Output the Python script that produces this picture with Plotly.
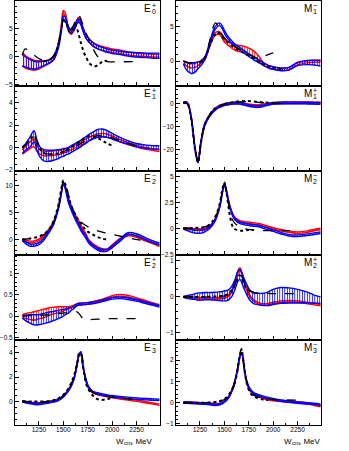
import plotly.graph_objects as go
from plotly.subplots import make_subplots

# W_cm grid (MeV) shared by the two solution bands
W = [1080, 1120, 1160, 1200, 1230, 1260, 1300, 1350, 1400, 1450, 1480, 1500, 1520, 1550, 1580, 1610, 1640,
     1660, 1680, 1700, 1730, 1760, 1800, 1850, 1900, 1950, 2000, 2080, 2160, 2250, 2350, 2420, 2485]

# ---- E0+ ----
E0P_RED = [-0.5, -1.0, -1.3, -1.5, -1.5, -1.4, -1.2, -0.9, -0.2, 2.2, 5.5, 8.0, 7.6, 5.2, 4.3, 5.0, 6.4,
           6.8, 6.2, 5.0, 3.7, 3.0, 2.3, 1.8, 1.5, 1.3, 1.1, 0.9, 0.6, 0.4, 0.3, 0.2, 0.2]
E0P_RED_ERR = [1.2, 1.1, 1.0, 0.9, 0.8, 0.7, 0.5, 0.35, 0.3, 0.3, 0.3, 0.3, 0.3, 0.3, 0.3, 0.3, 0.3,
               0.3, 0.3, 0.3, 0.3, 0.3, 0.3, 0.35, 0.35, 0.35, 0.3, 0.3, 0.25, 0.25, 0.25, 0.25, 0.25]
E0P_BLUE = [-0.6, -1.0, -1.3, -1.5, -1.5, -1.4, -1.2, -0.9, -0.3, 1.9, 4.8, 7.0, 6.8, 5.2, 4.5, 5.1, 6.2,
            6.5, 6.0, 5.0, 3.7, 3.0, 2.3, 1.7, 1.4, 1.1, 0.9, 0.7, 0.5, 0.35, 0.25, 0.2, 0.2]
E0P_BLUE_ERR = [1.0, 0.9, 0.8, 0.7, 0.6, 0.5, 0.4, 0.3, 0.3, 0.3, 0.3, 0.3, 0.3, 0.3, 0.3, 0.3, 0.3,
                0.3, 0.3, 0.3, 0.3, 0.3, 0.3, 0.3, 0.3, 0.3, 0.3, 0.3, 0.35, 0.4, 0.4, 0.45, 0.45]
E0P_DASH_W = [1080, 1110, 1150, 1200, 1250, 1300, 1350, 1400, 1450, 1480, 1500, 1530, 1560, 1600, 1640,
              1660, 1690, 1720, 1760, 1800, 1850, 1900, 1950, 2050, 2240]
E0P_DASH = [0.3, 1.4, 1.0, 0.3, -0.3, -0.7, -0.6, 0.2, 2.5, 5.0, 6.5, 6.0, 4.8, 5.5, 7.2,
            7.4, 6.3, 4.8, 3.2, 1.6, 0.1, -0.6, -0.85, -0.9, -0.85]
E0P_DOT_W = [1300, 1350, 1400, 1450, 1480, 1500, 1530, 1560, 1590, 1620, 1650, 1680, 1710, 1740, 1770,
             1800, 1830, 1860, 1900, 1950]
E0P_DOT = [-0.8, -0.6, 0.0, 2.3, 5.0, 6.5, 6.0, 4.5, 4.6, 5.8, 4.5, 2.5, 0.8, -0.3, -1.2,
           -1.6, -1.7, -1.4, -0.9, -0.7]

# ---- M1- ----
M1M_RED = [-0.1, -0.5, -0.7, -0.6, -0.4, -0.1, 0.4, 2.3, 3.9, 4.1, 3.5, 3.0, 2.8, 2.5, 2.2, 2.0, 1.9,
           1.85, 1.8, 1.75, 1.6, 1.4, 1.1, 0.5, -0.4, -0.8, -1.0, -1.2, -1.1, -0.4, -0.1, 0.0, 0.0]
M1M_RED_ERR = [0.2, 0.25, 0.3, 0.3, 0.25, 0.2, 0.2, 0.2, 0.2, 0.2, 0.2, 0.2, 0.25, 0.3, 0.35, 0.4, 0.45,
               0.45, 0.45, 0.45, 0.45, 0.45, 0.4, 0.3, 0.2, 0.15, 0.15, 0.15, 0.15, 0.15, 0.15, 0.15, 0.15]
M1M_BLUE = [-0.2, -0.8, -1.0, -0.9, -0.6, -0.3, 0.4, 2.6, 4.7, 5.4, 4.9, 4.3, 3.8, 3.2, 2.7, 2.3, 2.0,
            1.8, 1.6, 1.4, 1.1, 0.8, 0.4, 0.0, -0.4, -0.8, -1.0, -1.2, -1.1, -0.4, -0.2, -0.2, -0.3]
M1M_BLUE_ERR = [0.2, 0.6, 0.8, 0.7, 0.5, 0.35, 0.2, 0.2, 0.2, 0.2, 0.2, 0.2, 0.2, 0.2, 0.2, 0.2, 0.2,
                0.2, 0.2, 0.2, 0.2, 0.2, 0.2, 0.2, 0.2, 0.2, 0.2, 0.2, 0.2, 0.25, 0.3, 0.35, 0.4]
M1M_DASH_W = [1080, 1150, 1250, 1300, 1350, 1380, 1410, 1440, 1480, 1550, 1650, 1750, 1850, 1920, 2000]
M1M_DASH = [0.0, -0.3, -0.2, 0.6, 3.0, 4.8, 5.6, 5.0, 3.8, 2.7, 1.8, 1.0, 0.4, 0.8, 1.2]
M1M_DOT_W = [1250, 1300, 1350, 1400, 1430, 1460, 1500, 1600, 1700, 1800, 1900, 2000, 2100]
M1M_DOT = [-0.2, 0.5, 2.3, 3.8, 4.2, 3.9, 3.2, 2.0, 1.2, 0.4, -0.5, -1.0, -1.2]

# ---- E1+ ----
E1P_RED = [-0.4, -0.1, 0.2, 0.4, -0.1, -0.4, -0.55, -0.55, -0.5, -0.45, -0.4, -0.35, -0.3, -0.2, -0.1, 0.05, 0.15,
           0.25, 0.35, 0.45, 0.6, 0.75, 0.9, 1.05, 1.1, 1.05, 0.9, 0.6, 0.35, 0.1, -0.1, -0.2, -0.3]
E1P_RED_ERR = [0.2, 0.25, 0.3, 0.35, 0.25, 0.2, 0.2, 0.2, 0.2, 0.2, 0.15, 0.15, 0.15, 0.15, 0.15, 0.15, 0.15,
               0.15, 0.15, 0.15, 0.15, 0.15, 0.15, 0.15, 0.15, 0.15, 0.12, 0.1, 0.1, 0.08, 0.08, 0.08, 0.08]
E1P_BLUE = [-0.3, 0.1, 0.5, 1.0, 0.2, -0.4, -0.7, -0.75, -0.7, -0.6, -0.5, -0.45, -0.4, -0.3, -0.15, 0.0, 0.15,
            0.25, 0.35, 0.5, 0.65, 0.85, 1.05, 1.25, 1.3, 1.2, 1.0, 0.7, 0.45, 0.2, 0.05, 0.0, 0.0]
E1P_BLUE_ERR = [0.25, 0.3, 0.45, 0.5, 0.45, 0.45, 0.5, 0.5, 0.45, 0.4, 0.35, 0.35, 0.3, 0.3, 0.3, 0.3, 0.3,
                0.3, 0.3, 0.3, 0.3, 0.3, 0.3, 0.35, 0.35, 0.3, 0.25, 0.2, 0.15, 0.15, 0.15, 0.15, 0.15]
E1P_DASH_W = [1080, 1120, 1160, 1200, 1240, 1280, 1350, 1450, 1550, 1650, 1750, 1850, 1900, 1950, 2050, 2150, 2250]
E1P_DASH = [0.0, 0.3, 0.8, 1.05, 0.3, -0.4, -0.6, -0.5, -0.2, 0.2, 0.7, 1.05, 1.05, 1.0, 0.7, 0.4, 0.15]
E1P_DOT_W = [1080, 1150, 1200, 1250, 1300, 1400, 1500, 1600, 1700, 1760, 1800, 1850, 1900, 1950, 2000]
E1P_DOT = [0.0, 0.6, 1.0, 0.1, -0.5, -0.6, -0.4, 0.1, 0.7, 1.0, 1.0, 0.85, 0.6, 0.35, 0.15]

# ---- M1+ ----
M1P_RED = [0.3, 0.2, -6.0, -19.5, -25.2, -16.7, -9.0, -5.2, -2.6, -1.2, -0.7, -0.45, -0.3, -0.1, 0.1, 0.2, 0.2,
           0.1, -0.1, -0.3, -0.5, -0.7, -0.9, -0.9, -0.6, -0.3, 0.0, 0.2, 0.3, 0.3, 0.3, 0.2, 0.1]
M1P_RED_ERR = [0.3, 0.3, 0.4, 0.4, 0.4, 0.4, 0.4, 0.35, 0.35, 0.35, 0.35, 0.35, 0.35, 0.35, 0.35, 0.35, 0.35,
               0.35, 0.35, 0.35, 0.35, 0.35, 0.35, 0.35, 0.35, 0.35, 0.35, 0.35, 0.35, 0.35, 0.35, 0.35, 0.35]
M1P_BLUE = [0.2, 0.1, -6.2, -19.7, -25.3, -16.8, -9.1, -5.3, -2.8, -1.4, -0.9, -0.6, -0.4, -0.2, 0.0, 0.1, 0.1,
            0.0, -0.2, -0.4, -0.7, -1.0, -1.3, -1.4, -1.0, -0.5, 0.0, 0.2, 0.2, 0.2, 0.1, 0.0, 0.0]
M1P_BLUE_ERR = [0.3, 0.3, 0.4, 0.4, 0.4, 0.4, 0.4, 0.35, 0.35, 0.35, 0.35, 0.35, 0.35, 0.35, 0.35, 0.35, 0.35,
                0.35, 0.35, 0.35, 0.35, 0.35, 0.35, 0.35, 0.35, 0.35, 0.35, 0.35, 0.35, 0.35, 0.35, 0.35, 0.35]
M1P_DASH_W = [1080, 1120, 1160, 1200, 1230, 1260, 1300, 1350, 1400, 1500, 1600, 1700, 1800, 1900, 2000, 2100]
M1P_DASH = [0.3, 0.0, -6.2, -19.8, -25.3, -16.8, -9.0, -5.0, -2.5, -0.4, 0.4, 0.7, 0.6, 0.3, 0.1, 0.0]
M1P_DOT_W = [1080, 1120, 1160, 1200, 1230, 1260, 1300, 1350, 1400, 1500, 1600, 1700, 1800, 1900, 2000]
M1P_DOT = [0.3, 0.0, -6.5, -20.0, -25.5, -17.0, -9.2, -5.0, -2.3, -0.3, 0.6, 1.0, 0.8, 0.4, 0.1]

# ---- E2- ----
E2M_RED = [0.0, -0.3, -0.4, -0.35, -0.2, 0.1, 0.7, 1.8, 3.2, 6.0, 8.8, 10.5, 9.8, 7.8, 6.3, 5.0, 3.9,
           3.3, 2.6, 1.9, 1.0, -0.1, -0.8, -1.4, -1.8, -1.9, -1.1, 0.1, 0.85, 0.6, -0.15, -0.6, -1.1]
E2M_RED_ERR = [0.15, 0.15, 0.15, 0.15, 0.15, 0.15, 0.15, 0.15, 0.15, 0.15, 0.15, 0.15, 0.15, 0.15, 0.15, 0.15, 0.15,
               0.15, 0.15, 0.15, 0.15, 0.15, 0.15, 0.15, 0.15, 0.15, 0.15, 0.15, 0.15, 0.15, 0.15, 0.15, 0.15]
E2M_BLUE = [0.0, -0.6, -1.0, -1.0, -0.9, -0.6, 0.1, 1.4, 3.0, 5.9, 8.7, 10.5, 9.6, 7.2, 5.7, 4.4, 3.3,
            2.6, 1.9, 1.3, 0.5, -0.4, -1.1, -1.7, -2.0, -1.9, -1.3, -0.1, 1.1, 0.9, 0.1, -0.4, -0.8]
E2M_BLUE_ERR = [0.2, 0.2, 0.2, 0.2, 0.2, 0.2, 0.2, 0.2, 0.2, 0.2, 0.2, 0.2, 0.2, 0.2, 0.2, 0.2, 0.2,
                0.2, 0.2, 0.2, 0.2, 0.2, 0.2, 0.2, 0.2, 0.2, 0.2, 0.2, 0.2, 0.2, 0.2, 0.2, 0.2]
E2M_DASH_W = [1080, 1150, 1250, 1350, 1400, 1450, 1480, 1500, 1520, 1560, 1600, 1650, 1700, 1800, 1900,
              2000, 2100, 2200, 2300]
E2M_DASH = [0.0, 0.2, 0.5, 1.6, 3.0, 6.0, 9.0, 10.8, 10.5, 7.8, 5.5, 4.0, 3.0, 2.0, 1.4, 1.0, 0.6, 0.2, -0.1]
E2M_DOT_W = [1080, 1150, 1250, 1350, 1400, 1450, 1480, 1500, 1520, 1560, 1600, 1650, 1700, 1750, 1800,
             1850, 1900, 1950]
E2M_DOT = [0.0, 0.2, 0.6, 1.8, 3.5, 6.5, 9.5, 11.0, 10.3, 7.5, 5.5, 3.8, 2.5, 1.5, 1.0, 0.5, 0.2, 0.0]

# ---- M2- ----
M2M_RED = [0.0, 0.0, -0.05, -0.1, -0.1, -0.1, -0.05, 0.2, 0.8, 2.1, 3.6, 4.3, 3.7, 2.4, 1.5, 1.0, 0.8,
           0.7, 0.65, 0.6, 0.57, 0.55, 0.5, 0.42, 0.3, 0.15, 0.0, -0.15, -0.3, -0.4, -0.3, -0.15, -0.05]
M2M_RED_ERR = [0.07, 0.07, 0.07, 0.07, 0.07, 0.07, 0.07, 0.07, 0.07, 0.07, 0.07, 0.07, 0.07, 0.07, 0.07, 0.07, 0.07,
               0.07, 0.07, 0.07, 0.07, 0.07, 0.07, 0.07, 0.07, 0.07, 0.07, 0.07, 0.07, 0.07, 0.07, 0.07, 0.07]
M2M_BLUE = [0.0, -0.1, -0.2, -0.3, -0.3, -0.3, -0.2, 0.1, 0.7, 2.0, 3.5, 4.3, 3.6, 2.3, 1.4, 0.9, 0.65,
            0.55, 0.5, 0.45, 0.4, 0.35, 0.3, 0.25, 0.1, -0.05, -0.2, -0.45, -0.65, -0.7, -0.6, -0.5, -0.4]
M2M_BLUE_ERR = [0.05, 0.1, 0.15, 0.15, 0.15, 0.15, 0.12, 0.1, 0.08, 0.08, 0.08, 0.08, 0.08, 0.08, 0.08, 0.08, 0.08,
                0.08, 0.08, 0.08, 0.08, 0.08, 0.08, 0.08, 0.08, 0.08, 0.08, 0.08, 0.08, 0.08, 0.08, 0.08, 0.08]
M2M_DASH_W = [1080, 1200, 1300, 1350, 1400, 1450, 1480, 1500, 1520, 1550, 1580, 1620, 1700, 1800, 1950, 2100, 2250]
M2M_DASH = [0.0, 0.05, 0.15, 0.35, 0.9, 2.2, 3.7, 4.4, 3.7, 2.0, 0.9, 0.4, 0.0, -0.15, -0.2, -0.2, -0.2]
M2M_DOT_W = [1080, 1200, 1300, 1350, 1400, 1450, 1480, 1500, 1520, 1550, 1580, 1600, 1650, 1700, 1750, 1800]
M2M_DOT = [0.0, 0.05, 0.15, 0.4, 1.0, 2.3, 3.8, 4.45, 3.6, 1.6, 0.3, 0.0, -0.2, -0.2, -0.15, -0.15]

# ---- E2+ ----
E2P_RED = [0.0, 0.0, 0.0, 0.0, 0.02, 0.04, 0.06, 0.1, 0.13, 0.15, 0.16, 0.17, 0.18, 0.19, 0.21, 0.24, 0.27,
           0.28, 0.28, 0.29, 0.29, 0.3, 0.32, 0.35, 0.38, 0.42, 0.46, 0.49, 0.47, 0.41, 0.34, 0.29, 0.25]
E2P_RED_ERR = [0.03, 0.06, 0.08, 0.1, 0.1, 0.1, 0.1, 0.09, 0.08, 0.07, 0.06, 0.05, 0.04, 0.03, 0.02, 0.02, 0.02,
               0.02, 0.02, 0.02, 0.02, 0.02, 0.02, 0.02, 0.02, 0.02, 0.02, 0.02, 0.02, 0.02, 0.02, 0.02, 0.02]
E2P_BLUE = [-0.02, -0.05, -0.07, -0.09, -0.09, -0.08, -0.06, -0.03, 0.0, 0.04, 0.06, 0.08, 0.1, 0.13, 0.17, 0.21, 0.26,
            0.28, 0.28, 0.29, 0.29, 0.3, 0.31, 0.33, 0.36, 0.39, 0.42, 0.43, 0.41, 0.37, 0.31, 0.27, 0.23]
E2P_BLUE_ERR = [0.03, 0.07, 0.1, 0.12, 0.12, 0.12, 0.12, 0.12, 0.11, 0.1, 0.09, 0.08, 0.07, 0.06, 0.04, 0.03, 0.02,
                0.02, 0.02, 0.02, 0.02, 0.02, 0.02, 0.02, 0.02, 0.02, 0.02, 0.02, 0.02, 0.02, 0.02, 0.02, 0.02]
E2P_DASH_W = [1080, 1200, 1300, 1400, 1500, 1600, 1640, 1670, 1700, 1730, 1800, 1900, 2000, 2100, 2240]
E2P_DASH = [0.0, 0.01, 0.02, 0.04, 0.07, 0.1, 0.1, 0.03, -0.06, -0.09, -0.08, -0.07, -0.06, -0.06, -0.06]

# ---- M2+ ----
M2P_RED = [0.0, 0.0, -0.01, -0.02, -0.03, -0.04, -0.04, -0.04, -0.04, -0.03, -0.03, -0.02, 0.0, 0.05, 0.18, 0.4, 0.7,
           0.78, 0.65, 0.45, 0.2, 0.03, -0.1, -0.18, -0.21, -0.2, -0.17, -0.13, -0.12, -0.13, -0.17, -0.2, -0.23]
M2P_RED_ERR = [0.01, 0.02, 0.02, 0.02, 0.02, 0.02, 0.02, 0.02, 0.02, 0.02, 0.02, 0.02, 0.02, 0.02, 0.02, 0.03, 0.03,
               0.03, 0.03, 0.03, 0.02, 0.02, 0.02, 0.02, 0.02, 0.02, 0.02, 0.02, 0.02, 0.02, 0.02, 0.02, 0.02]
M2P_BLUE = [0.0, 0.0, 0.0, 0.01, 0.01, 0.01, 0.02, 0.02, 0.02, 0.02, 0.02, 0.03, 0.03, 0.07, 0.17, 0.35, 0.58,
            0.62, 0.52, 0.38, 0.2, 0.05, -0.04, -0.06, -0.07, -0.05, 0.0, 0.04, 0.04, 0.02, -0.02, -0.06, -0.09]
M2P_BLUE_ERR = [0.01, 0.04, 0.06, 0.08, 0.1, 0.1, 0.1, 0.1, 0.11, 0.12, 0.13, 0.14, 0.14, 0.14, 0.14, 0.14, 0.14,
                0.14, 0.14, 0.14, 0.14, 0.14, 0.15, 0.16, 0.17, 0.19, 0.21, 0.22, 0.21, 0.19, 0.15, 0.11, 0.09]
M2P_DASH_W = [1080, 1200, 1300, 1400, 1500, 1550, 1600, 1630, 1655, 1680, 1710, 1740, 1770, 1800, 1900, 2000,
              2100, 2250]
M2P_DASH = [0.0, 0.0, 0.0, 0.0, 0.03, 0.08, 0.28, 0.5, 0.65, 0.55, 0.35, 0.2, 0.16, 0.12, 0.1, 0.09, 0.09, 0.09]
M2P_DOT_W = [1080, 1200, 1300, 1400, 1500, 1550, 1600, 1630, 1655, 1680, 1710, 1740, 1770, 1800]
M2P_DOT = [0.0, 0.0, 0.0, 0.01, 0.04, 0.1, 0.3, 0.5, 0.6, 0.5, 0.32, 0.2, 0.15, 0.12]

# ---- E3- ----
E3M_RED = [0.0, -0.05, -0.1, -0.14, -0.15, -0.14, -0.1, -0.05, 0.02, 0.15, 0.3, 0.45, 0.6, 0.9, 1.3, 1.9, 3.0,
           3.8, 4.0, 2.9, 1.75, 1.1, 0.75, 0.6, 0.5, 0.42, 0.35, 0.25, 0.15, 0.05, -0.08, -0.18, -0.28]
E3M_RED_ERR = [0.05, 0.05, 0.05, 0.05, 0.05, 0.05, 0.05, 0.05, 0.05, 0.05, 0.05, 0.05, 0.05, 0.05, 0.05, 0.05, 0.05,
               0.05, 0.05, 0.05, 0.05, 0.05, 0.05, 0.05, 0.05, 0.05, 0.05, 0.05, 0.05, 0.05, 0.05, 0.05, 0.05]
E3M_BLUE = [0.0, -0.08, -0.15, -0.2, -0.22, -0.2, -0.15, -0.08, 0.0, 0.12, 0.28, 0.42, 0.58, 0.88, 1.28, 1.9, 3.0,
            3.85, 4.05, 3.0, 1.85, 1.15, 0.8, 0.65, 0.55, 0.48, 0.42, 0.35, 0.29, 0.23, 0.18, 0.15, 0.13]
E3M_BLUE_ERR = [0.06, 0.06, 0.06, 0.06, 0.06, 0.06, 0.06, 0.06, 0.06, 0.06, 0.06, 0.06, 0.06, 0.06, 0.06, 0.06, 0.06,
                0.06, 0.06, 0.06, 0.06, 0.06, 0.06, 0.06, 0.06, 0.06, 0.06, 0.06, 0.06, 0.06, 0.06, 0.06, 0.06]
E3M_DASH_W = [1080, 1200, 1300, 1400, 1500, 1550, 1600, 1640, 1665, 1685, 1710, 1740, 1800, 1900, 2000, 2100, 2240]
E3M_DASH = [0.0, -0.05, -0.05, 0.05, 0.45, 0.95, 1.8, 3.0, 3.9, 3.9, 2.6, 1.5, 0.75, 0.5, 0.35, 0.25, 0.15]
E3M_DOT_W = [1080, 1200, 1300, 1400, 1450, 1500, 1550, 1600, 1640, 1665, 1685, 1710, 1740, 1780, 1820, 1860,
             1900, 1950, 2000]
E3M_DOT = [0.0, 0.0, 0.0, 0.1, 0.25, 0.55, 1.05, 1.9, 3.1, 4.0, 3.8, 2.5, 1.3, 0.7, 0.35, 0.15, 0.12, 0.2, 0.25]

# ---- M3- ----
M3M_RED = [0.0, 0.0, 0.0, -0.01, -0.02, -0.03, -0.04, -0.05, -0.06, -0.05, 0.0, 0.06, 0.13, 0.3, 0.6, 1.05, 1.7,
           2.2, 2.3, 1.7, 0.95, 0.6, 0.4, 0.3, 0.22, 0.15, 0.12, 0.08, 0.05, 0.02, -0.03, -0.1, -0.16]
M3M_RED_ERR = [0.03, 0.03, 0.03, 0.03, 0.03, 0.03, 0.03, 0.03, 0.03, 0.03, 0.03, 0.03, 0.03, 0.03, 0.03, 0.03, 0.03,
               0.03, 0.03, 0.03, 0.03, 0.03, 0.03, 0.03, 0.03, 0.03, 0.03, 0.03, 0.03, 0.03, 0.03, 0.03, 0.03]
M3M_BLUE = [0.0, 0.0, -0.01, -0.02, -0.03, -0.04, -0.05, -0.07, -0.1, -0.08, -0.02, 0.05, 0.12, 0.3, 0.6, 1.05, 1.7,
            2.2, 2.3, 1.75, 1.0, 0.65, 0.45, 0.35, 0.28, 0.22, 0.17, 0.1, 0.05, 0.0, -0.03, -0.06, -0.1]
M3M_BLUE_ERR = [0.03, 0.03, 0.03, 0.03, 0.03, 0.03, 0.03, 0.03, 0.03, 0.03, 0.03, 0.03, 0.03, 0.03, 0.03, 0.03, 0.03,
                0.03, 0.03, 0.03, 0.03, 0.03, 0.03, 0.03, 0.03, 0.03, 0.03, 0.03, 0.03, 0.03, 0.03, 0.03, 0.03]
M3M_DASH_W = [1080, 1200, 1300, 1400, 1450, 1500, 1550, 1600, 1630, 1655, 1675, 1695, 1720, 1760, 1800, 1900,
              2000, 2100, 2260]
M3M_DASH = [0.0, 0.0, 0.0, 0.03, 0.07, 0.15, 0.35, 0.8, 1.4, 2.2, 2.55, 2.0, 1.15, 0.55, 0.35, 0.2, 0.15, 0.13, 0.12]
M3M_DOT_W = [1080, 1200, 1300, 1400, 1450, 1500, 1550, 1600, 1630, 1655, 1675, 1695, 1720, 1760, 1800, 1850,
             1900, 1950]
M3M_DOT = [0.0, 0.0, 0.0, 0.03, 0.07, 0.17, 0.4, 0.85, 1.4, 2.1, 2.45, 2.0, 1.1, 0.5, 0.3, 0.2, 0.15, 0.12]

# panel layout: row, col, letter, subscript, superscript, y-range, major dtick, minor dtick, data
PANELS = [
    (1, 1, "E", "0", "+", [-5.2, 10.0], 5, 1,
     (E0P_RED, E0P_RED_ERR, E0P_BLUE, E0P_BLUE_ERR, E0P_DASH_W, E0P_DASH, E0P_DOT_W, E0P_DOT)),
    (1, 2, "M", "1", "\u2212", [-3.6, 8.8], 5, 1,
     (M1M_RED, M1M_RED_ERR, M1M_BLUE, M1M_BLUE_ERR, M1M_DASH_W, M1M_DASH, M1M_DOT_W, M1M_DOT)),
    (2, 1, "E", "1", "+", [-2.07, 5.5], 2, 0.5,
     (E1P_RED, E1P_RED_ERR, E1P_BLUE, E1P_BLUE_ERR, E1P_DASH_W, E1P_DASH, E1P_DOT_W, E1P_DOT)),
    (2, 2, "M", "1", "+", [-29.1, 7.6], 10, 2,
     (M1P_RED, M1P_RED_ERR, M1P_BLUE, M1P_BLUE_ERR, M1P_DASH_W, M1P_DASH, M1P_DOT_W, M1P_DOT)),
    (3, 1, "E", "2", "\u2212", [-2.9, 12.8], 5, 1,
     (E2M_RED, E2M_RED_ERR, E2M_BLUE, E2M_BLUE_ERR, E2M_DASH_W, E2M_DASH, E2M_DOT_W, E2M_DOT)),
    (3, 2, "M", "2", "\u2212", [-2.6, 5.6], 2.5, 0.5,
     (M2M_RED, M2M_RED_ERR, M2M_BLUE, M2M_BLUE_ERR, M2M_DASH_W, M2M_DASH, M2M_DOT_W, M2M_DOT)),
    (4, 1, "E", "2", "+", [-0.57, 1.43], 0.5, 0.1,
     (E2P_RED, E2P_RED_ERR, E2P_BLUE, E2P_BLUE_ERR, E2P_DASH_W, E2P_DASH, None, None)),
    (4, 2, "M", "2", "+", [-1.2, 1.15], 1, 0.2,
     (M2P_RED, M2P_RED_ERR, M2P_BLUE, M2P_BLUE_ERR, M2P_DASH_W, M2P_DASH, M2P_DOT_W, M2P_DOT)),
    (5, 1, "E", "3", "\u2212", [-1.95, 5.05], 2, 0.5,
     (E3M_RED, E3M_RED_ERR, E3M_BLUE, E3M_BLUE_ERR, E3M_DASH_W, E3M_DASH, E3M_DOT_W, E3M_DOT)),
    (5, 2, "M", "3", "\u2212", [-1.05, 2.94], 1, 0.2,
     (M3M_RED, M3M_RED_ERR, M3M_BLUE, M3M_BLUE_ERR, M3M_DASH_W, M3M_DASH, M3M_DOT_W, M3M_DOT)),
]

RED = "#ff0000"
BLUE = "#0000ff"
FONT = "Liberation Sans, Arial, sans-serif"

fig = make_subplots(rows=5, cols=2, horizontal_spacing=0.0526, vertical_spacing=0)


def add_band(y, err, color, row, col):
    upper = [v + e for v, e in zip(y, err)]
    lower = [v - e for v, e in zip(y, err)]
    fig.add_trace(
        go.Scatter(x=W, y=upper, mode="lines", hoverinfo="skip",
                   line={"color": color, "width": 1.4, "shape": "spline"}),
        row=row, col=col,
    )
    fig.add_trace(
        go.Scatter(x=W, y=lower, mode="lines", hoverinfo="skip", fill="tonexty",
                   fillpattern={"shape": "|", "size": 2.5, "solidity": 0.35, "fgcolor": color,
                                "bgcolor": "rgba(0,0,0,0)", "fillmode": "replace"},
                   line={"color": color, "width": 1.4, "shape": "spline"}),
        row=row, col=col,
    )


for i, (row, col, letter, sub, sup, yrange, dtick, minor, data) in enumerate(PANELS):
    red, red_err, blue, blue_err, dash_w, dash, dot_w, dot = data
    add_band(red, red_err, RED, row, col)
    add_band(blue, blue_err, BLUE, row, col)
    fig.add_trace(
        go.Scatter(x=dash_w, y=dash, mode="lines", hoverinfo="skip",
                   line={"color": "black", "width": 1.3, "dash": "dash", "shape": "spline"}),
        row=row, col=col,
    )
    if dot is not None:
        fig.add_trace(
            go.Scatter(x=dot_w, y=dot, mode="lines", hoverinfo="skip",
                       line={"color": "black", "width": 2, "dash": "dot", "shape": "spline"}),
            row=row, col=col,
        )

    fig.update_yaxes(
        range=yrange, dtick=dtick, tick0=0, ticks="inside", ticklen=4, tickwidth=0.8,
        minor={"dtick": minor, "ticks": "inside", "ticklen": 2, "tickwidth": 0.8, "tickcolor": "black"},
        row=row, col=col,
    )

    # panel label like E_0^+ with stacked sub/superscript
    n = i + 1
    xref = "x domain" if n == 1 else f"x{n} domain"
    yref = "y domain" if n == 1 else f"y{n} domain"
    fig.add_annotation(x=1, y=1, xref=xref, yref=yref, xanchor="right", yanchor="top",
                       xshift=-7, yshift=0, text=letter, showarrow=False,
                       font={"size": 10, "color": "black", "family": FONT})
    fig.add_annotation(x=1, y=1, xref=xref, yref=yref, xanchor="left", yanchor="top",
                       xshift=-10, yshift=1, text=sup, showarrow=False,
                       font={"size": 7, "color": "black", "family": FONT})
    fig.add_annotation(x=1, y=1, xref=xref, yref=yref, xanchor="left", yanchor="top",
                       xshift=-10, yshift=-5, text=sub, showarrow=False,
                       font={"size": 7, "color": "black", "family": FONT})

fig.update_xaxes(
    range=[1005, 2490], dtick=250, tick0=1250, ticks="inside", ticklen=4, tickwidth=0.8,
    minor={"dtick": 125, "ticks": "inside", "ticklen": 2.5, "tickwidth": 0.8, "tickcolor": "black"},
    showline=True, linecolor="black", linewidth=1, mirror=True,
    showgrid=False, zeroline=False, showticklabels=False, tickcolor="black",
    ticklabelstandoff=-2,
    tickfont={"size": 6.5, "color": "black", "family": FONT},
)
fig.update_xaxes(showticklabels=True, row=5)
fig.update_yaxes(
    showline=True, linecolor="black", linewidth=1, mirror=True, tickcolor="black",
    showgrid=False, zeroline=False,
    tickfont={"size": 6.5, "color": "black", "family": FONT},
)

# axis title "W_cm, MeV" built from three pieces so the subscript sits low without growing the box
for ref, dx in [("x9 domain", -5), ("x10 domain", 1.5)]:
    fig.add_annotation(x=1, y=0, xref=ref, yref="y9 domain", xanchor="right", yanchor="top",
                       xshift=dx, yshift=-10, text=", MeV", showarrow=False,
                       font={"size": 8, "color": "black", "family": FONT})
    fig.add_annotation(x=1, y=0, xref=ref, yref="y9 domain", xanchor="right", yanchor="top",
                       xshift=dx - 21, yshift=-13, text="cm", showarrow=False,
                       font={"size": 6, "color": "black", "family": FONT})
    fig.add_annotation(x=1, y=0, xref=ref, yref="y9 domain", xanchor="right", yanchor="top",
                       xshift=dx - 29, yshift=-10, text="W", showarrow=False,
                       font={"size": 8, "color": "black", "family": FONT})

fig.update_layout(
    width=349, height=451,
    margin={"l": 13, "r": 28, "t": 0, "b": 26},
    paper_bgcolor="white", plot_bgcolor="white",
    showlegend=False,
    font={"family": FONT, "color": "black"},
)

# the default page body has an 8px margin; drop it so the figure fills the window exactly
fig.write_html("out.html", config={"displayModeBar": False},
               post_script="document.body.style.margin='0';")
